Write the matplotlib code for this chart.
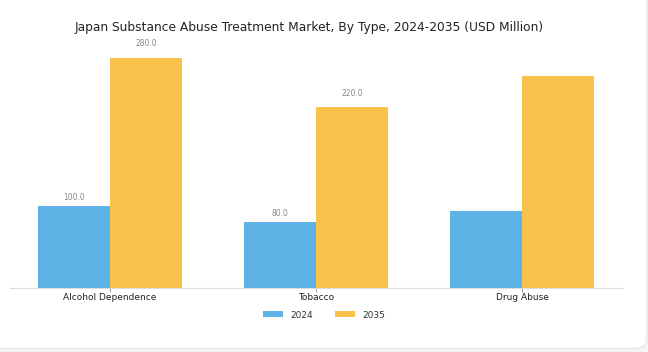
import matplotlib.pyplot as plt
import numpy as np
from matplotlib.patches import FancyBboxPatch

# data
categories = ["Alcohol Dependence", "Tobacco", "Drug Abuse"]
values_2024 = [100.0, 80.0, 93.0]
values_2035 = [280.0, 220.0, 257.0]
show_label = [True, True, False]

fig = plt.figure(figsize=(6.48, 3.52), dpi=100, facecolor="#f3f3f3")
# white card with rounded bottom-right corner
card = FancyBboxPatch((-0.05, 0.01), 1.048, 1.2, boxstyle="round,pad=0,rounding_size=0.025",
                      transform=fig.transFigure, facecolor="white", edgecolor="#e8e8e8",
                      linewidth=0.8, zorder=-10)
fig.patches.append(card)

ax = fig.add_axes([0.015, 0.182, 0.947, 0.72])
x = np.arange(len(categories))
w = 0.35
b1 = ax.bar(x - w / 2, values_2024, w, color="#5DB3E6", label="2024")
b2 = ax.bar(x + w / 2, values_2035, w, color="#F9C34B", label="2035")

for i, show in enumerate(show_label):
    if show:
        ax.text(x[i] - w / 2, values_2024[i] + 5, f"{values_2024[i]:.1f}", ha="center",
                va="bottom", fontsize=5.5, color="#888888")
        ax.text(x[i] + w / 2, values_2035[i] + 11, f"{values_2035[i]:.1f}", ha="center",
                va="bottom", fontsize=5.5, color="#888888")

ax.set_xlim(-0.485, 2.49)
ax.set_ylim(0, 308)
ax.set_xticks(x)
ax.set_xticklabels(categories, fontsize=6.5, color="#222222")
ax.tick_params(axis="x", length=3, width=0.6, color="#888888", pad=1)
ax.set_yticks([])
for s in ["top", "right", "left"]:
    ax.spines[s].set_visible(False)
ax.spines["bottom"].set_color("#dddddd")
ax.spines["bottom"].set_linewidth(0.8)
ax.patch.set_alpha(0)

fig.text(0.477, 0.922, "Japan Substance Abuse Treatment Market, By Type, 2024-2035 (USD Million)",
         ha="center", va="center", fontsize=8.8, color="#222222")
fig.legend(handles=[b1, b2], labels=["2024", "2035"], loc="center", bbox_to_anchor=(0.5, 0.105),
           ncol=2, frameon=False, fontsize=6.5, handlelength=2.2, handleheight=0.6,
           columnspacing=2.5, labelcolor="#333333")

fig.savefig("out.png", dpi=100, facecolor=fig.get_facecolor())
